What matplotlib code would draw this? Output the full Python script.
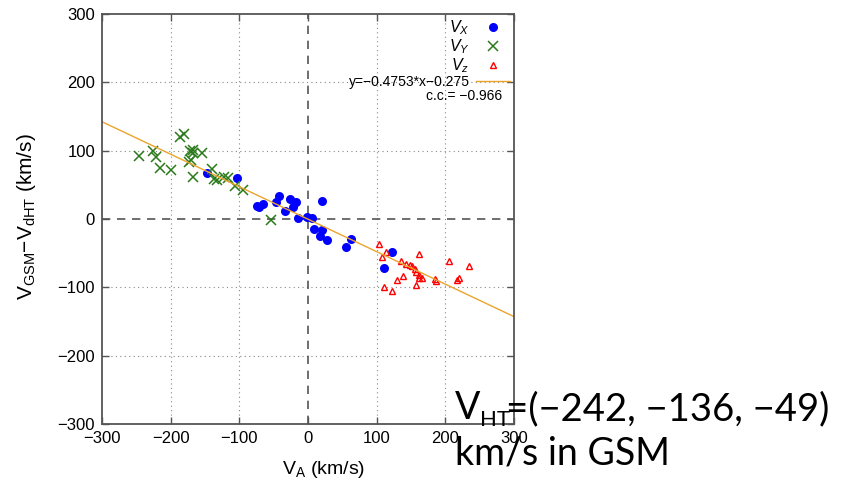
import matplotlib
matplotlib.use("Agg")
import matplotlib.pyplot as plt
import numpy as np

plt.rcParams['font.family'] = ['Liberation Sans', 'DejaVu Sans']
plt.rcParams['mathtext.fontset'] = 'custom'
plt.rcParams['mathtext.rm'] = 'Liberation Sans'
plt.rcParams['mathtext.it'] = 'Liberation Sans:italic'

# V_A (km/s) vs V_GSM - V_dHT (km/s)
vx_a = [-147, -104, -75, -72, -66, -46, -42, -33, -26, -22, -17, -14, -2, 6,
        21, 9, 21, 17, 28, 56, 62, 110, 123]
vx_d = [67, 60, 19, 18, 22, 25, 34, 12, 29, 17, 25, 1, 3, 2,
        27, -15, -16, -25, -31, -41, -29, -72, -49]

vy_a = [-246, -225, -221, -215, -199, -186, -181, -172, -167, -168, -155,
        -174, -171, -168, -140, -137, -133, -123, -117, -106, -94, -54]
vy_d = [92, 99, 91, 74, 71, 120, 125, 100, 101, 97, 96,
        84, 86, 61, 73, 58, 57, 62, 60, 48, 42, -1]

vz_a = [103, 114, 108, 135, 162, 142, 148, 152, 156, 157, 162, 161, 166,
        139, 129, 158, 185, 186, 206, 220, 217, 235, 110, 123]
vz_d = [-37, -49, -56, -61, -51, -66, -67, -69, -73, -78, -82, -87, -86,
        -83, -89, -96, -88, -90, -61, -86, -89, -69, -100, -105]

slope = -0.4753
intercept = -0.275
cc = -0.966
v_ht = (-242, -136, -49)

fig = plt.figure(figsize=(8.44, 4.82), dpi=100)
ax = fig.add_axes([102 / 844, 1 - 424 / 482, 412 / 844, 410 / 482])

ax.set_xlim(-300, 300)
ax.set_ylim(-300, 300)
ticks = np.arange(-300, 301, 100)
ax.set_xticks(ticks)
ax.set_yticks(ticks)
ax.tick_params(direction='in', top=True, right=True, length=5, width=1,
               color='#555555', labelsize=12, pad=5)
for s in ax.spines.values():
    s.set_color('#555555')
    s.set_linewidth(1.3)

# grid and zero axes
for t in ticks[1:-1]:
    if t == 0:
        continue
    ax.axvline(t, color='#888888', lw=0.8, ls=(0, (1, 3)), zorder=0)
    ax.axhline(t, color='#888888', lw=0.8, ls=(0, (1, 3)), zorder=0)
ax.axvline(0, color='#555555', lw=1.2, ls=(0, (5, 4)), zorder=0)
ax.axhline(0, color='#555555', lw=1.2, ls=(0, (5, 4)), zorder=0)

ax.plot(vx_a, vx_d, 'o', color='#0000ff', ms=6.5, mec='none', label=r'$V_X$')
ax.plot(vy_a, vy_d, 'x', color='#2a7a1a', ms=6.5, mew=1.1, label=r'$V_Y$')
ax.plot(vz_a, vz_d, '^', color='#ff0000', mfc='none', ms=5, mew=1,
        label=r'$V_z$')

xf = np.array([-300, 300])
ax.plot(xf, slope * xf + intercept, color='#EBA42C', lw=1,
        label='y=\u22120.4753*x\u22120.275')

leg = ax.legend(loc='upper right', frameon=False, markerfirst=False,
                fontsize=10, handlelength=2.4, handletextpad=0.5,
                labelspacing=0.02, borderaxespad=0.1, borderpad=0.2)
for t in leg.get_texts()[:3]:
    t.set_fontsize(11.5)
ax.text(0.971, 0.80, 'c.c.= ' + str(cc).replace('-', '\u2212'),
        transform=ax.transAxes, ha='right', va='center', fontsize=10)

ax.set_xlabel(r'V$_{\rm A}$ (km/s)', fontsize=14)
ax.set_ylabel(r'V$_{\rm GSM}$$-$V$_{\rm dHT}$ (km/s)', fontsize=15)
ax.xaxis.set_label_coords(0.539, -0.085)
ax.yaxis.set_label_coords(-0.155, 0.507)

# annotation text at lower right
big = dict(family='Lato', color='black', zorder=10)
t1 = fig.text(455 / 844, 1 - 419 / 482, 'V', fontsize=27, va='baseline', **big)
t2 = ax.annotate('HT', xy=(1, 0), xycoords=t1, xytext=(0, 0),
                 textcoords='offset points', fontsize=16, va='baseline',
                 annotation_clip=False, **big)
vals = '=(' + ', '.join(str(v).replace('-', '\u2212') for v in v_ht) + ')'
ax.annotate(vals, xy=(1, 0), xycoords=t2, xytext=(-3, 7),
            textcoords='offset points', fontsize=27.5, va='baseline',
            annotation_clip=False, **big)
fig.text(455 / 844, 1 - 464 / 482, 'km/s in GSM', fontsize=27,
         va='baseline', **big)

fig.savefig('out.png', dpi=100)
